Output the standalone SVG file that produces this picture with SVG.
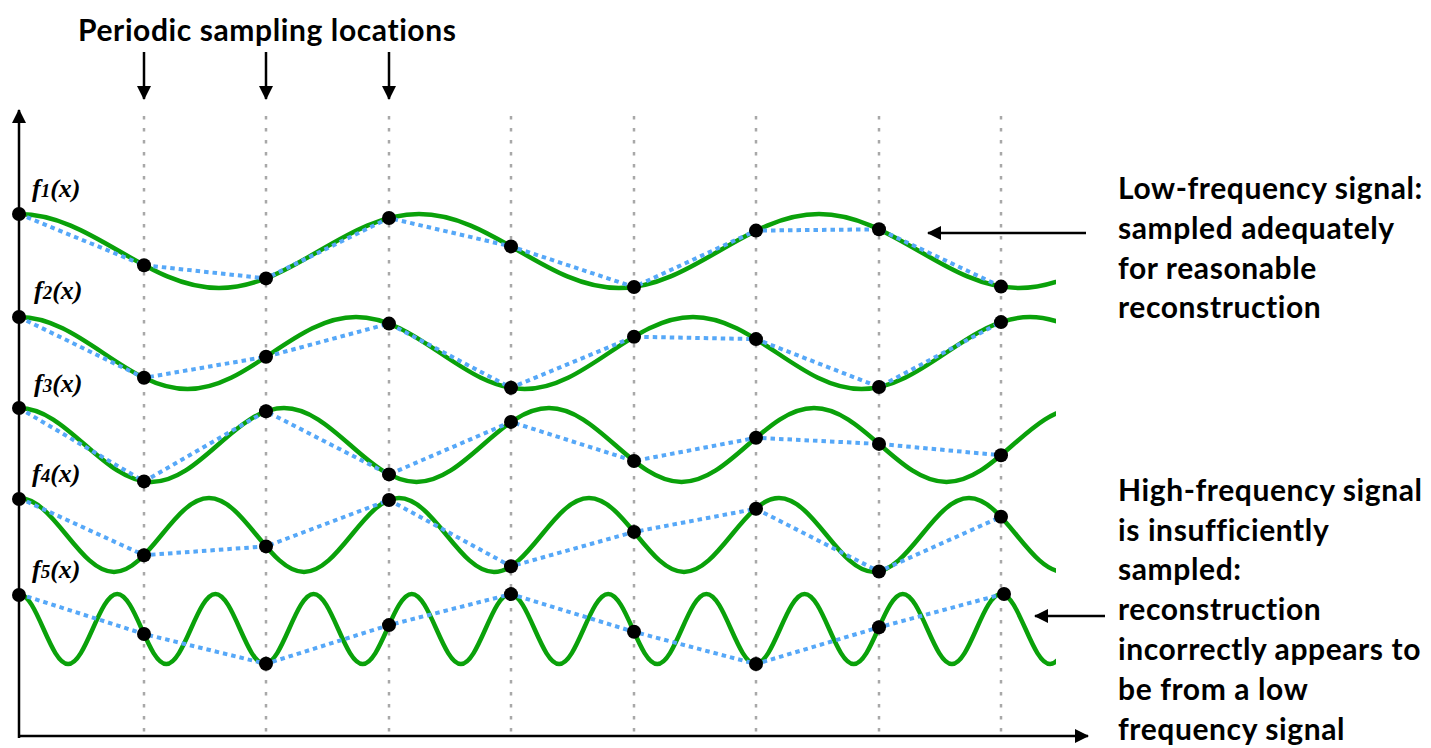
<svg xmlns="http://www.w3.org/2000/svg" width="1431" height="748" viewBox="0 0 1431 748">
<style>
.t{font-family:Lato,"Open Sans","Liberation Sans",sans-serif;font-weight:700;font-size:30px;letter-spacing:0.6px;fill:#000}
.f{font-family:"Liberation Serif","DejaVu Serif",serif;font-weight:700;font-style:italic;font-size:26px;fill:#000}
.sub{font-size:19px}
.grid{stroke:#a8a8a8;stroke-width:2.5;stroke-dasharray:3.5 8.5;fill:none}
.sig{stroke:#0aa10a;stroke-width:4.5;fill:none}
.rec{stroke:#56a8f8;stroke-width:4;stroke-dasharray:4.5 4;fill:none}
.ax{stroke:#000;stroke-width:2.5;fill:none}
.dot{fill:#000}
</style>
<defs>
<marker id="ah" viewBox="0 0 14 14" refX="13" refY="7" markerWidth="14" markerHeight="14" markerUnits="userSpaceOnUse" orient="auto"><path d="M0,0 L14,7 L0,14 z" fill="#000"/></marker>
<clipPath id="clip"><rect x="19" y="0" width="1037" height="748"/></clipPath>
</defs>
<rect width="1431" height="748" fill="#fff"/>

<g id="grid">
<line class="grid" x1="144" y1="116" x2="144" y2="738"/>
<line class="grid" x1="266" y1="116" x2="266" y2="738"/>
<line class="grid" x1="389" y1="116" x2="389" y2="738"/>
<line class="grid" x1="511" y1="116" x2="511" y2="738"/>
<line class="grid" x1="634" y1="116" x2="634" y2="738"/>
<line class="grid" x1="756" y1="116" x2="756" y2="738"/>
<line class="grid" x1="879" y1="116" x2="879" y2="738"/>
<line class="grid" x1="1001" y1="116" x2="1001" y2="738"/>
</g>

<g id="axes">
<line class="ax" x1="19" y1="738" x2="19" y2="110" marker-end="url(#ah)"/>
<line class="ax" x1="18" y1="736" x2="1088" y2="736" marker-end="url(#ah)"/>
</g>

<g id="signals" clip-path="url(#clip)">
<path id="f1" class="sig" d="M19,214 C91.84,214 146.16,288 219,288 S346.16,214 419,214 S546.16,288 619,288 S746.16,214 819,214 S946.16,288 1019,288 S1146.16,214 1219,214"/>
<path id="f2" class="sig" d="M19,317 C80.37,317 126.13,389 187.5,389 S294.63,317 356,317 S463.13,389 524.5,389 S631.63,317 693,317 S800.13,389 861.5,389 S968.63,317 1030,317 S1137.13,389 1198.5,389"/>
<path id="f3" class="sig" d="M19,408 C67.26,408 103.24,482 151.5,482 S235.74,408 284,408 S368.24,482 416.5,482 S500.74,408 549,408 S633.24,482 681.5,482 S765.74,408 814,408 S898.24,482 946.5,482 S1030.74,408 1079,408"/>
<path id="f4" class="sig" d="M19,498 C53.6,498 79.4,572 114,572 S174.4,498 209,498 S269.4,572 304,572 S364.4,498 399,498 S459.4,572 494,572 S554.4,498 589,498 S649.4,572 684,572 S744.4,498 779,498 S839.4,572 874,572 S934.4,498 969,498 S1029.4,572 1064,572"/>
<path id="f5" class="sig" d="M19,594 C36.88,594 50.22,664 68.1,664 S99.32,594 117.2,594 S148.42,664 166.3,664 S197.52,594 215.4,594 S246.62,664 264.5,664 S295.72,594 313.6,594 S344.82,664 362.7,664 S393.92,594 411.8,594 S443.02,664 460.9,664 S492.12,594 510,594 S541.22,664 559.1,664 S590.32,594 608.2,594 S639.42,664 657.3,664 S688.52,594 706.4,594 S737.62,664 755.5,664 S786.72,594 804.6,594 S835.82,664 853.7,664 S884.92,594 902.8,594 S934.02,664 951.9,664 S983.12,594 1001,594 S1032.22,664 1050.1,664 S1081.32,594 1099.2,594"/>
</g>

<g id="reconstructions">
<polyline class="rec" points="19,214 144,265.2 266,278.4 389,218 511,246.4 634,287 756,230.6 879,229.3 1001,286.6"/>
<polyline class="rec" points="19,317 144,377.8 266,356.8 389,323.6 511,387.8 634,336.7 756,339.1 879,387 1001,322.1"/>
<polyline class="rec" points="19,408 144,481.4 266,411.3 389,474.4 511,421.9 634,461 756,437.8 879,443.9 1001,455.3"/>
<polyline class="rec" points="19,498 144,555.2 266,546.4 389,500 511,566.3 634,531.9 756,508.8 879,571.5 1001,516.8"/>
<polyline class="rec" points="19,594 144,634 266,663.8 389,625.1 511,594.1 634,631.8 756,664 879,627.3 1003,594"/>
</g>

<g id="samples">
<circle class="dot" cx="19" cy="214" r="7"/><circle class="dot" cx="144" cy="265.2" r="7"/><circle class="dot" cx="266" cy="278.4" r="7"/><circle class="dot" cx="389" cy="218" r="7"/><circle class="dot" cx="511" cy="246.4" r="7"/><circle class="dot" cx="634" cy="287" r="7"/><circle class="dot" cx="756" cy="230.6" r="7"/><circle class="dot" cx="879" cy="229.3" r="7"/><circle class="dot" cx="1001" cy="286.6" r="7"/>
<circle class="dot" cx="19" cy="317" r="7"/><circle class="dot" cx="144" cy="377.8" r="7"/><circle class="dot" cx="266" cy="356.8" r="7"/><circle class="dot" cx="389" cy="323.6" r="7"/><circle class="dot" cx="511" cy="387.8" r="7"/><circle class="dot" cx="634" cy="336.7" r="7"/><circle class="dot" cx="756" cy="339.1" r="7"/><circle class="dot" cx="879" cy="387" r="7"/><circle class="dot" cx="1001" cy="322.1" r="7"/>
<circle class="dot" cx="19" cy="408" r="7"/><circle class="dot" cx="144" cy="481.4" r="7"/><circle class="dot" cx="266" cy="411.3" r="7"/><circle class="dot" cx="389" cy="474.4" r="7"/><circle class="dot" cx="511" cy="421.9" r="7"/><circle class="dot" cx="634" cy="461" r="7"/><circle class="dot" cx="756" cy="437.8" r="7"/><circle class="dot" cx="879" cy="443.9" r="7"/><circle class="dot" cx="1001" cy="455.3" r="7"/>
<circle class="dot" cx="19" cy="499" r="7"/><circle class="dot" cx="144" cy="555.2" r="7"/><circle class="dot" cx="266" cy="546.4" r="7"/><circle class="dot" cx="389" cy="500" r="7"/><circle class="dot" cx="511" cy="566.3" r="7"/><circle class="dot" cx="634" cy="531.9" r="7"/><circle class="dot" cx="756" cy="508.8" r="7"/><circle class="dot" cx="879" cy="571.5" r="7"/><circle class="dot" cx="1001" cy="516.8" r="7"/>
<circle class="dot" cx="19" cy="595" r="7"/><circle class="dot" cx="144" cy="634" r="7"/><circle class="dot" cx="266" cy="663.8" r="7"/><circle class="dot" cx="389" cy="625.1" r="7"/><circle class="dot" cx="511" cy="594.1" r="7"/><circle class="dot" cx="634" cy="631.8" r="7"/><circle class="dot" cx="756" cy="664" r="7"/><circle class="dot" cx="879" cy="627.3" r="7"/><circle class="dot" cx="1004" cy="594" r="7"/>
</g>

<g id="labels">
<text class="f" x="32" y="197">f<tspan class="sub">1</tspan>(x)</text>
<text class="f" x="34" y="299">f<tspan class="sub">2</tspan>(x)</text>
<text class="f" x="34" y="392">f<tspan class="sub">3</tspan>(x)</text>
<text class="f" x="32" y="482">f<tspan class="sub">4</tspan>(x)</text>
<text class="f" x="32" y="578">f<tspan class="sub">5</tspan>(x)</text>
</g>

<g id="title">
<text class="t" x="78" y="41">Periodic sampling locations</text>
</g>

<g id="connectors">
<line class="ax" x1="144" y1="52" x2="144" y2="99" marker-end="url(#ah)"/>
<line class="ax" x1="266" y1="52" x2="266" y2="99" marker-end="url(#ah)"/>
<line class="ax" x1="389" y1="52" x2="389" y2="99" marker-end="url(#ah)"/>
<line class="ax" x1="1086" y1="233" x2="928" y2="233" marker-end="url(#ah)"/>
<line class="ax" x1="1105" y1="616" x2="1035" y2="616" marker-end="url(#ah)"/>
</g>

<g id="note-low">
<text class="t" x="1118" y="199">Low-frequency signal:</text>
<text class="t" x="1118" y="239">sampled adequately</text>
<text class="t" x="1118" y="279">for reasonable</text>
<text class="t" x="1118" y="318">reconstruction</text>
</g>

<g id="note-high">
<text class="t" x="1118" y="501">High-frequency signal</text>
<text class="t" x="1118" y="541">is insufficiently</text>
<text class="t" x="1118" y="580">sampled:</text>
<text class="t" x="1118" y="620">reconstruction</text>
<text class="t" x="1118" y="660">incorrectly appears to</text>
<text class="t" x="1118" y="700">be from a low</text>
<text class="t" x="1118" y="740">frequency signal</text>
</g>
</svg>
